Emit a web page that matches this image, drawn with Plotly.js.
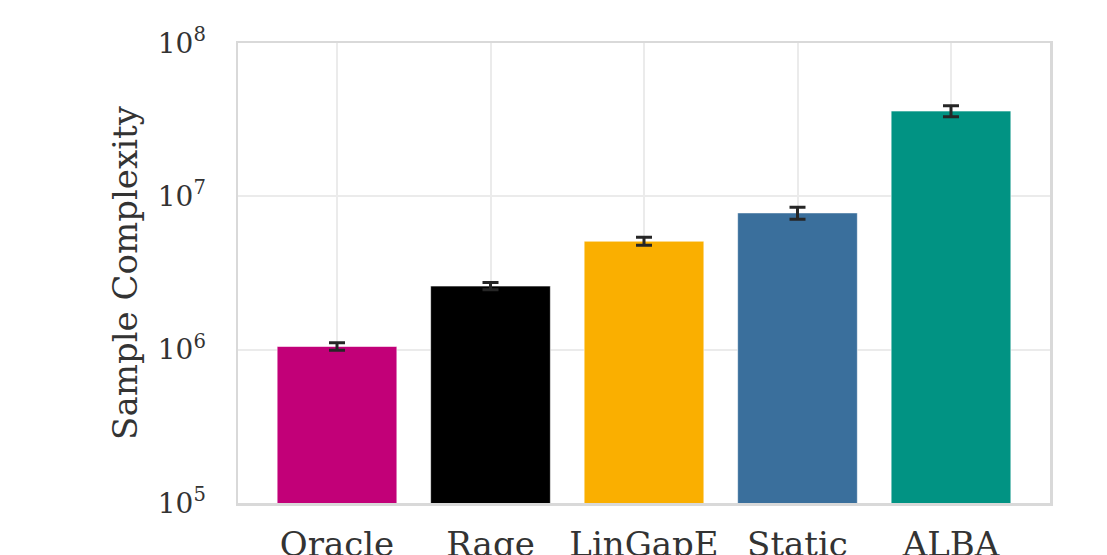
<!DOCTYPE html>
<html>
<head>
<meta charset="utf-8">
<script src="https://cdn.plot.ly/plotly-3.0.1.min.js"></script>
<style>
  html, body { margin: 0; padding: 0; background: #ffffff; }
  #chart { width: 1107px; height: 555px; }
</style>
</head>
<body>
<div id="chart"></div>
<script>
// Mean sample complexity per algorithm, with error (std) values
const algorithms = ["Oracle", "Rage", "LinGapE", "Static", "ALBA"];
const sampleComplexity = [1.05e6, 2.6e6, 5.1e6, 7.8e6, 3.6e7];
const errorValues = [0.06e6, 0.14e6, 0.3e6, 0.7e6, 0.3e7];
const barColors = ["#c20078", "#000000", "#faaf00", "#3a6f9c", "#019383"];

const yTickVals = [1e5, 1e6, 1e7, 1e8];
const yTickText = ["10<sup>5</sup>", "10<sup>6</sup>", "10<sup>7</sup>", "10<sup>8</sup>"];

const serif = "DejaVu Serif, serif";

const trace = {
  type: "bar",
  x: algorithms,
  y: sampleComplexity,
  marker: {
    color: barColors,
    line: { color: "rgba(255,255,255,0.6)", width: 1 }
  },
  error_y: {
    type: "data",
    array: errorValues,
    visible: true,
    color: "#262626",
    thickness: 3,
    width: 8
  },
  hoverinfo: "x+y"
};

const layout = {
  width: 1107,
  height: 555,
  margin: { l: 238, r: 57, t: 43, b: 52 },
  paper_bgcolor: "#ffffff",
  plot_bgcolor: "#ffffff",
  bargap: 0.22,
  showlegend: false,
  font: { family: serif, color: "#333333" },
  xaxis: {
    type: "category",
    range: [-0.645, 4.645],
    showgrid: true,
    gridcolor: "#ebebeb",
    gridwidth: 2,
    showline: true,
    mirror: true,
    linecolor: "#d9d9d9",
    linewidth: 2.5,
    ticks: "",
    ticklabelstandoff: 10,
    tickfont: { family: serif, size: 34, color: "#333333" },
    zeroline: false
  },
  yaxis: {
    type: "log",
    range: [5, 8],
    tickvals: yTickVals,
    ticktext: yTickText,
    showgrid: true,
    gridcolor: "#ebebeb",
    gridwidth: 2,
    showline: true,
    mirror: true,
    linecolor: "#d9d9d9",
    linewidth: 2.5,
    ticks: "",
    ticklabelstandoff: 24,
    tickfont: { family: serif, size: 28, color: "#333333" },
    zeroline: false,
    title: {
      text: "Sample Complexity",
      font: { family: serif, size: 34, color: "#333333" },
      standoff: 10
    }
  }
};

Plotly.newPlot("chart", [trace], layout, { displayModeBar: false, staticPlot: true });
</script>
</body>
</html>
